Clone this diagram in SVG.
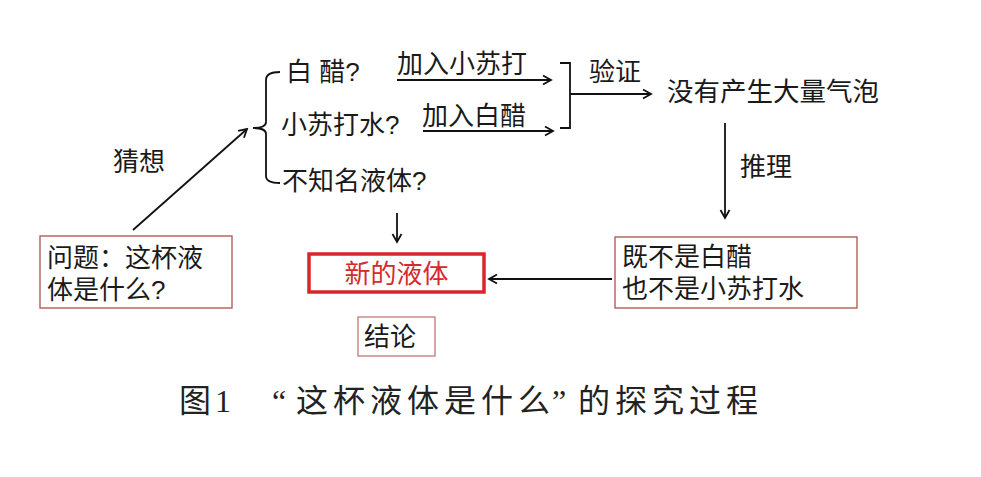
<svg xmlns="http://www.w3.org/2000/svg" width="981" height="477" viewBox="0 0 981 477">
<defs>
<marker id="ah" markerWidth="12" markerHeight="12" refX="10" refY="6" orient="auto" markerUnits="userSpaceOnUse">
<path d="M2,1.5 L10,6 L2,10.5" fill="none" stroke="#111" stroke-width="1.8" stroke-linejoin="miter"/>
</marker>
</defs>
<style>
.t{font-family:"Liberation Sans","Noto Sans CJK SC",sans-serif;font-size:26px;fill:#1a1a1a}
.red{fill:#d42a2e}
.box{fill:#fff;stroke:#b0504c;stroke-width:1.3}
.rbox{fill:#fff;stroke:#d9262b;stroke-width:3.5}
.ln{fill:none;stroke:#111;stroke-width:1.8}
.cap{font-family:"Liberation Serif","Noto Sans CJK SC",serif;font-size:32px;fill:#222}
</style>
<rect width="981" height="477" fill="#fff"/>
<g id="connectors">
<path class="ln" d="M280,72 Q266,72 266,80 L266,122 Q266,128 253,128 Q266,128 266,134 L266,176 Q266,183 280,183"/>
<path class="ln" d="M560,63 L570,63 L570,128 L560,128"/>
<line class="ln" x1="133" y1="230" x2="247" y2="129" marker-end="url(#ah)"/>
<line class="ln" x1="397" y1="80" x2="551" y2="80" marker-end="url(#ah)"/>
<line class="ln" x1="423" y1="131" x2="553" y2="131" marker-end="url(#ah)"/>
<line class="ln" x1="570" y1="94" x2="651" y2="94" marker-end="url(#ah)"/>
<line class="ln" x1="725" y1="123" x2="725" y2="218" marker-end="url(#ah)"/>
<line class="ln" x1="397" y1="213" x2="397" y2="242" marker-end="url(#ah)"/>
<line class="ln" x1="612" y1="279" x2="489" y2="279" marker-end="url(#ah)"/>
<text class="t" x="113" y="171">猜想</text>
<text class="t" x="397" y="73">加入小苏打</text>
<text class="t" x="422" y="125">加入白醋</text>
<text class="t" x="589" y="81">验证</text>
<text class="t" x="740" y="176">推理</text>
</g>
<g id="n-question">
<rect class="box" x="40" y="236" width="192" height="72"/>
<text class="t" x="47" y="267">问题：这杯液</text>
<text class="t" x="47" y="299">体是什么?</text>
</g>
<g id="n-vinegar"><text class="t" x="286" y="81">白 醋?</text></g>
<g id="n-soda"><text class="t" x="281" y="134">小苏打水?</text></g>
<g id="n-unknown"><text class="t" x="282" y="190">不知名液体?</text></g>
<g id="n-nobubbles"><text class="t" x="667" y="101" style="font-size:26.5px">没有产生大量气泡</text></g>
<g id="n-neither">
<rect class="box" x="615" y="237" width="242" height="71"/>
<text class="t" x="622" y="266">既不是白醋</text>
<text class="t" x="622" y="298">也不是小苏打水</text>
</g>
<g id="n-new">
<rect class="rbox" x="309" y="254" width="175" height="38"/>
<text class="t red" x="396.5" y="283" text-anchor="middle">新的液体</text>
</g>
<g id="n-conclusion">
<rect class="box" x="358" y="317" width="77" height="39" style="stroke:#c07a76"/>
<text class="t" x="364" y="346">结论</text>
</g>
<g id="caption">
<text class="cap" y="412" x="179 215 272 296 333 370 407 444 481 518 552 578 615 652 689 726">图1“这杯液体是什么”的探究过程</text>
</g>
</svg>
